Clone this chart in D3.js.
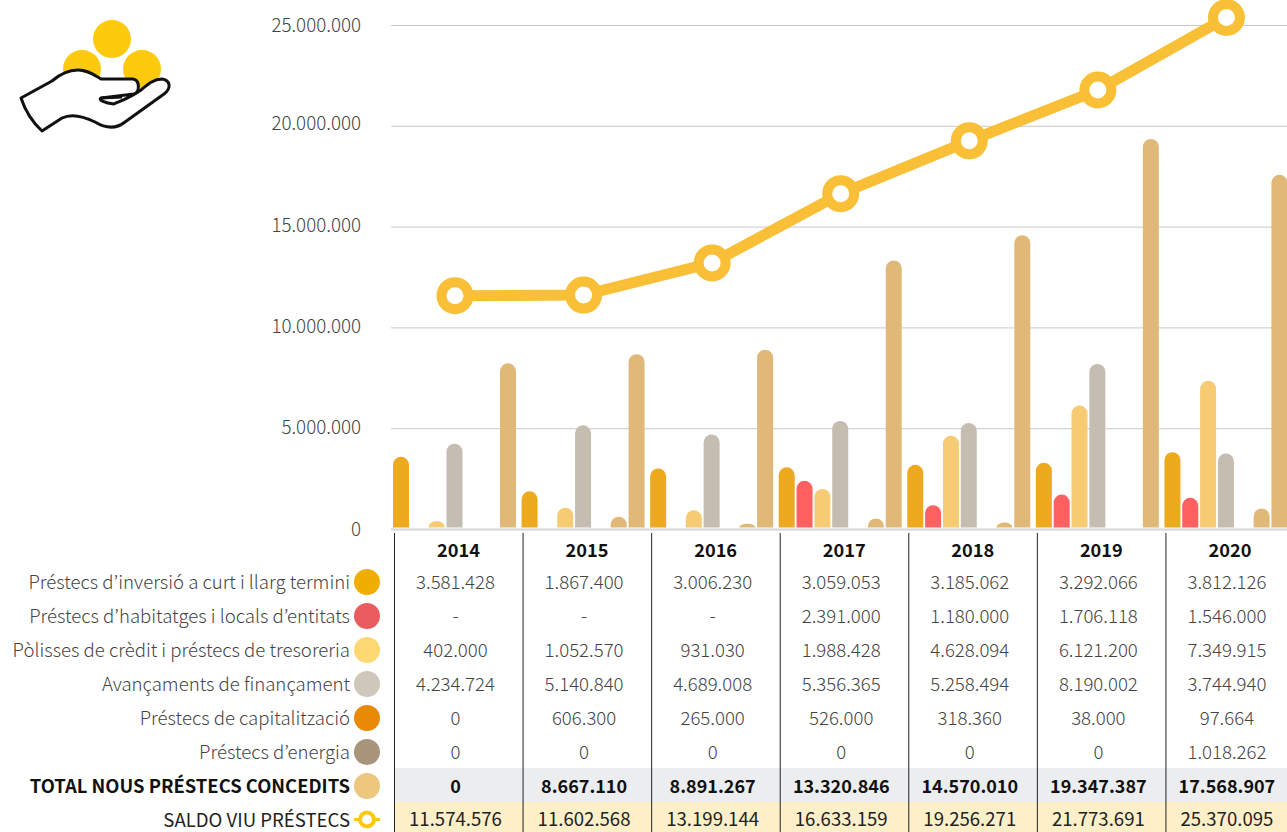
<!DOCTYPE html>
<html><head><meta charset="utf-8">
<script src="https://cdn.jsdelivr.net/npm/d3@7"></script>
<style>
html,body{margin:0;padding:0;background:#fff}
svg{display:block}
text{font-family:"Noto Sans CJK KR Light","Noto Sans CJK KR DemiLight","Noto Sans CJK KR","Noto Sans",sans-serif;font-weight:300;fill:#444}
text.strong{font-family:"Noto Sans CJK KR","Noto Sans",sans-serif}
</style></head><body>
<svg id="c" width="1287" height="832"></svg>
<script>
const years=["2014","2015","2016","2017","2018","2019","2020"];
const inversio=[3581428,1867400,3006230,3059053,3185062,3292066,3812126];
const habitatges=[0,0,0,2391000,1180000,1706118,1546000];
const polisses=[402000,1052570,931030,1988428,4628094,6121200,7349915];
const avancaments=[4234724,5140840,4689008,5356365,5258494,8190002,3744940];
const capitalitzacio=[0,606300,265000,526000,318360,38000,97664];
const energia=[0,0,0,0,0,0,1018262];
const totalBars=[8218152,8667110,8891267,13320846,14570010,19347387,17568907];
const saldo=[11574576,11602568,13199144,16633159,19256271,21773691,25370095];
const tickValues=[0,5000000,10000000,15000000,20000000,25000000];

const rowLabels=["Préstecs d’inversió a curt i llarg termini","Préstecs d’habitatges i locals d’entitats","Pòlisses de crèdit i préstecs de tresoreria","Avançaments de finançament","Préstecs de capitalització","Préstecs d’energia","TOTAL NOUS PRÉSTECS CONCEDITS","SALDO VIU PRÉSTECS"];
const legendColors=["#f0ae00","#e95c60","#fdd873","#cfc8ba","#e98a06","#a8957b","#ecc77d","#fdc70c"];
const barColors=["#eeaa1f","#ff6060","#f6cb73","#c6bdb1","#e0b978","#e0b978","#e0b978"];
const slotOf=[0,1,2,3,5,5,6];
const totalText=["0","8.667.110","8.891.267","13.320.846","14.570.010","19.347.387","17.568.907"];
const fmt=v=>d3.format(",")(v).replace(/,/g,".");
const dash=v=>v===0?"-":fmt(v);

const svg=d3.select("#c");
const W=1287;
const y=d3.scaleLinear().domain([0,25000000]).range([529,25]);
const xYear=d3.scaleBand().domain(years).range([394.5,1294.5]);
const xSlot=d3.scaleLinear().domain([0,6]).range([-1.5,105.5]);
const barW=16;
const labelNudge=[0,-.5,-1,-1.5,-2.5,0];

// grid
const gAxis=svg.append("g");
gAxis.selectAll("line.g").data(tickValues).join("line").attr("class","g")
 .attr("x1",391).attr("x2",W).attr("y1",d=>y(d)+.5).attr("y2",d=>y(d)+.5)
 .attr("stroke",d=>d===0?"#d6d6d6":"#c9c9c9").attr("stroke-width",d=>d===0?2:1);
gAxis.selectAll("text").data(tickValues).join("text")
 .attr("x",361).attr("y",(d,i)=>y(d)+6.5+labelNudge[i]).attr("text-anchor","end")
 .attr("font-size",18.75).text(d=>fmt(d));

// bars
const series=[inversio,habitatges,polisses,avancaments,capitalitzacio,energia,totalBars];
const barData=[];
series.forEach((vals,si)=>vals.forEach((v,yi)=>{
  if(y(0)-y(v)>3)barData.push({v,si,yi});
}));
function barPath(d){
  const x0=xYear(years[d.yi])+xSlot(slotOf[d.si]), x1=x0+barW, b=y(0)-1.5, t=y(d.v);
  const r=barW/2, h=b-t;
  if(h<r){return `M${x0},${b}A${r},${h} 0 0 1 ${x1},${b}Z`;}
  return `M${x0},${b}V${t+r}A${r},${r} 0 0 1 ${x1},${t+r}V${b}Z`;
}
svg.append("g").selectAll("path").data(barData).join("path")
 .attr("d",barPath).attr("fill",d=>barColors[d.si]);

// line
const xPt=yi=>xYear(years[yi])+60.5;
const line=d3.line().x((d,i)=>xPt(i)).y(d=>y(d));
svg.append("path").attr("d",line(saldo)).attr("fill","none").attr("stroke","#f8bf37").attr("stroke-width",11);
svg.append("g").selectAll("circle").data(saldo).join("circle")
 .attr("cx",(d,i)=>xPt(i)).attr("cy",d=>y(d)).attr("r",13.5)
 .attr("fill","#fff").attr("stroke","#f8bf37").attr("stroke-width",10);

// table backgrounds
const rowY=d3.scaleLinear().domain([0,1]).range([582,616]);
svg.append("rect").attr("x",395).attr("y",768).attr("width",W-395).attr("height",34).attr("fill","#ecedef");
svg.append("rect").attr("x",395).attr("y",802).attr("width",W-395).attr("height",30).attr("fill","#fdf0c9");

// separators
svg.append("g").selectAll("line").data(years).join("line")
 .attr("x1",d=>xYear(d)).attr("x2",d=>xYear(d)).attr("y1",533).attr("y2",832)
 .attr("stroke","#222").attr("stroke-width",1);

// header
const cx=yi=>xYear(years[yi])+61;
svg.append("g").selectAll("text").data(years).join("text").attr("class","strong")
 .attr("x",(d,i)=>cx(i)+3).attr("y",556.5).attr("text-anchor","middle")
 .attr("font-size",18.2).style("font-weight",700).style("fill","#111").text(d=>d);

// table rows
const rows=[inversio.map(fmt),habitatges.map(dash),polisses.map(fmt),avancaments.map(fmt),capitalitzacio.map(fmt),energia.map(fmt),totalText,saldo.map(fmt)];
rows.forEach((r,ri)=>{
  const yy=rowY(ri)+6.5;
  svg.append("g").selectAll("text").data(r).join("text").attr("class",ri>=6?"strong":null)
   .attr("x",(d,i)=>cx(i)).attr("y",ri===7?yy-.5:yy).attr("text-anchor","middle")
   .attr("font-size",ri===6?18:18.6)
   .style("font-weight",ri===6?700:(ri===7?400:300)).style("fill",ri===6?"#111":(ri===7?"#222":"#444")).text(d=>d);
});

// legend
rowLabels.forEach((t,i)=>{
  const yy=rowY(i);
  svg.append("text").attr("class",i>=6?"strong":null).attr("x",350).attr("y",yy+6.5).attr("text-anchor","end").attr("font-size",i===6?18.4:18.6)
   .style("font-weight",i===6?700:(i===7?400:300)).style("fill",i===6?"#111":(i===7?"#222":"#444")).text(t);
  if(i<7){
    svg.append("circle").attr("cx",367).attr("cy",yy).attr("r",13).attr("fill",legendColors[i]);
  }else{
    svg.append("line").attr("x1",354).attr("x2",380).attr("y1",yy-.5).attr("y2",yy-.5).attr("stroke",legendColors[i]).attr("stroke-width",3);
    svg.append("circle").attr("cx",367).attr("cy",yy-.5).attr("r",7).attr("fill","#fff").attr("stroke",legendColors[i]).attr("stroke-width",4);
  }
});

// icon
const icon=svg.append("g");
[[112,39],[82,69],[142,69]].forEach(c=>icon.append("circle").attr("cx",c[0]).attr("cy",c[1]).attr("r",19).attr("fill","#fdca0e"));
icon.append("path").attr("d","M21,98 L52,81 C60,74 68,70 78,70 C88,70 94,75 101,79 L133,79 C140,80 140,92 134,94 L101,98 C98,100 105,103 114,104 C118,102 130,98 141,90 C148,84 154,79 162,79 C170,80 172,88 164,94 L125,122 C115,130 105,128 95,122 C85,117 72,113 62,118 L42,131 C30,120 25,110 21,98 Z")
 .attr("fill","#fff").attr("stroke","#111").attr("stroke-width",3).attr("stroke-linejoin","round");
icon.append("path").attr("d","M101,98 L122,97").attr("fill","none").attr("stroke","#111").attr("stroke-width",3);
</script></body></html>
